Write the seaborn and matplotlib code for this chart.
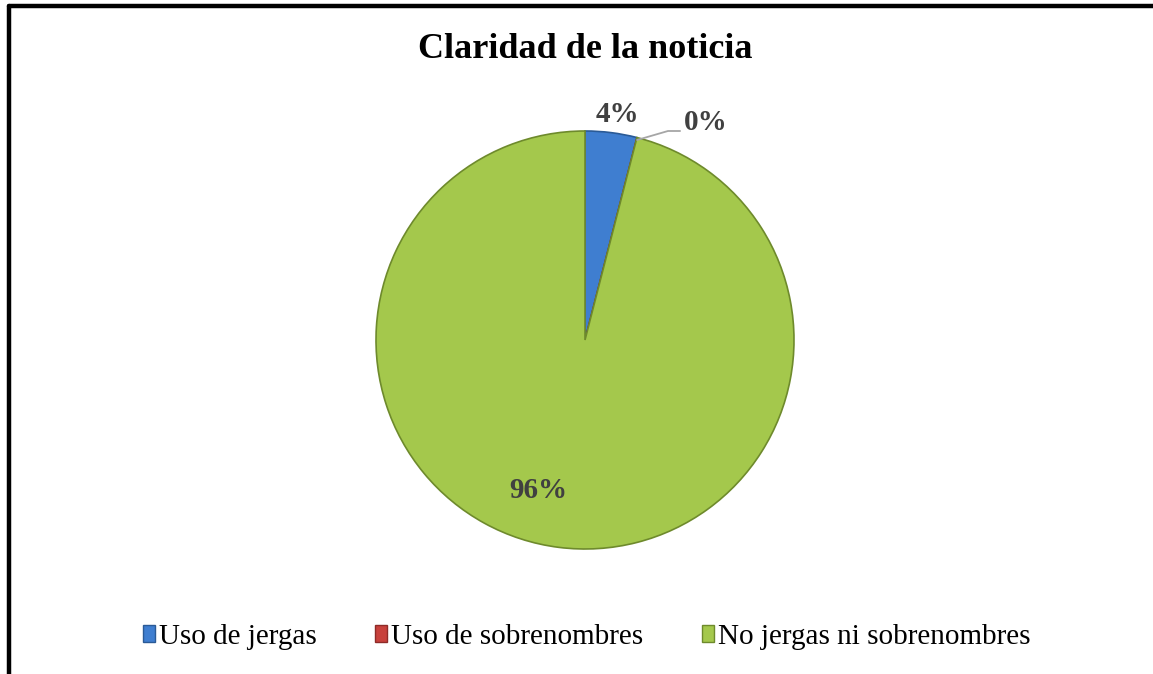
import matplotlib
matplotlib.use('Agg')
import matplotlib.pyplot as plt
import matplotlib.patches as mpatches
from matplotlib.lines import Line2D
import seaborn as sns

# data
categories = ['Uso de jergas', 'Uso de sobrenombres', 'No jergas ni sobrenombres']
values = [1, 0, 24]
pct_labels = ['4%', '0%', '96%']
colors = ['#3F7ED0', '#C8413C', '#A4C84C']
edge_colors = ['#2A5A96', '#8E2B28', '#6E8A2C']

sns.set_theme(style='white')
plt.rcParams['font.family'] = ['Liberation Serif', 'DejaVu Serif']
plt.rcParams['text.color'] = 'black'

W, H = 1153, 674
fig = plt.figure(figsize=(W / 100, H / 100), dpi=100)
fig.patch.set_facecolor('white')

# pie axes: center (585, 340), radius 209 px
cx, cy, r = 585, 340, 209
ax = fig.add_axes([(cx - r) / W, 1 - (cy + r) / H, 2 * r / W, 2 * r / H])
wedges, _ = ax.pie(values, colors=colors, startangle=90, counterclock=False,
                   wedgeprops=dict(linewidth=1.2))
for w, ec in zip(wedges, edge_colors):
    w.set_edgecolor(ec)
ax.set_xlim(-1, 1)
ax.set_ylim(-1, 1)
ax.set_aspect('auto')
ax.axis('off')

# data labels
lab_style = dict(fontsize=21, fontweight='bold', color='#404040',
                 ha='center', va='center')
ax.text(0.153, 1.08, pct_labels[0], clip_on=False, **lab_style)
ax.text(0.58, 1.04, pct_labels[1], clip_on=False, **lab_style)
ax.text(-0.225, -0.72, pct_labels[2], clip_on=False, **lab_style)
# leader line for the 0% label
ax.plot([0.249, 0.397, 0.455], [0.957, 1.0, 1.0], color='#A6A6A6', lw=1.3,
        clip_on=False)

fig.text(0.5074, 1 - 50 / H, 'Claridad de la noticia', ha='center', va='center',
         fontsize=26, fontweight='bold', color='black')

handles = [mpatches.Patch(facecolor=c, edgecolor=e, label=l)
           for c, e, l in zip(colors, edge_colors, categories)]
leg = fig.legend(handles=handles, loc='center', bbox_to_anchor=(0.509, 1 - 637 / H),
                 ncol=3, frameon=False, fontsize=21, handlelength=0.4,
                 handleheight=0.55, handletextpad=0.15, columnspacing=2.0)
for t in leg.get_texts():
    t.set_color('black')

# outer frame (left and top edges visible)
fig.add_artist(Line2D([9 / W, 9 / W], [0, 1 - 6 / H], color='black', lw=3.2))
fig.add_artist(Line2D([9 / W, 1], [1 - 6 / H, 1 - 6 / H], color='black', lw=3.2))

fig.savefig('out.png', dpi=100)
